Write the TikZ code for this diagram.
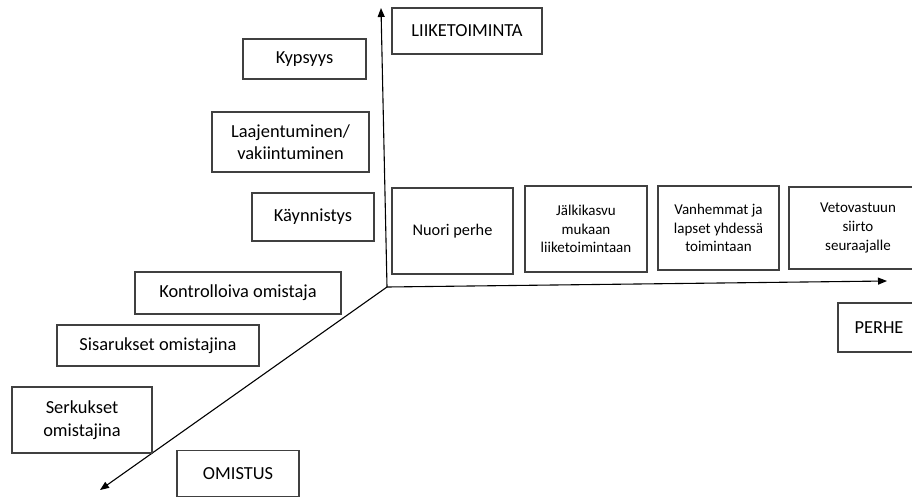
\documentclass[tikz,border=0pt]{standalone}
\usepackage{fontspec}
\setmainfont{Carlito}
\usetikzlibrary{arrows.meta}

\begin{document}
\begin{tikzpicture}[x=1pt, y=-1pt,
	 box/.style={draw=black!75, line width=1.4pt, align=center, inner sep=2pt, font=\fontsize{18.4}{22.5}\selectfont},
	 smallbox/.style={box, font=\fontsize{15}{18.6}\selectfont},
	 axis/.style={line width=1.1pt, -{Triangle[length=9pt, width=7pt]}}]
	 \clip (0, 0) rectangle (912, 498);

	 % axes
	 \coordinate (origin) at (387, 287);
	 \coordinate (liiketip) at (381, 8);
	 \coordinate (perhetip) at (887, 281);
	 \coordinate (omistip) at (100, 490);
	 \draw[axis] (origin) -- (liiketip);
	 \draw[axis] (origin) -- (perhetip);
	 \draw[axis] (origin) -- (omistip);

	 % liiketoiminta
	 \node[box, minimum width=150, minimum height=46] (liike) at (467, 31) {LIIKETOIMINTA};
	 \node[box, minimum width=123, minimum height=40] (kypsyys) at (304.5, 59) {Kypsyys};
	 \node[box, minimum width=157, minimum height=60] (laaj) at (290.5, 142) {Laajentuminen/\\vakiintuminen};
	 \node[box, minimum width=122, minimum height=48] (kaynn) at (313, 217) {Käynnistys};

	 % perhe
	 \node[box, font=\fontsize{16.3}{20}\selectfont, minimum width=121, minimum height=86] (nuori) at (452.5, 231) {Nuori perhe};
	 \node[smallbox, minimum width=122, minimum height=86] (jalki) at (586, 229) {Jälkikasvu\\mukaan\\liiketoimintaan};
	 \node[smallbox, minimum width=121, minimum height=84] (vanh) at (718.5, 228) {Vanhemmat ja\\lapset yhdessä\\toimintaan};
	 \node[smallbox, minimum width=138, minimum height=82] (veto) at (858, 228) {Vetovastuun\\siirto\\seuraajalle};
	 \node[box, minimum width=82, minimum height=49] (perhe) at (879, 327.5) {PERHE};

	 % omistus
	 \node[box, minimum width=206, minimum height=42] (kontr) at (238, 293) {Kontrolloiva omistaja};
	 \node[box, minimum width=202, minimum height=41] (sisar) at (158, 345.5) {Sisarukset omistajina};
	 \node[box, minimum width=140, minimum height=66] (serk) at (82, 420) {Serkukset\\omistajina};
	 \node[box, minimum width=122, minimum height=46] (omist) at (238, 473.5) {OMISTUS};
\end{tikzpicture}
\end{document}
